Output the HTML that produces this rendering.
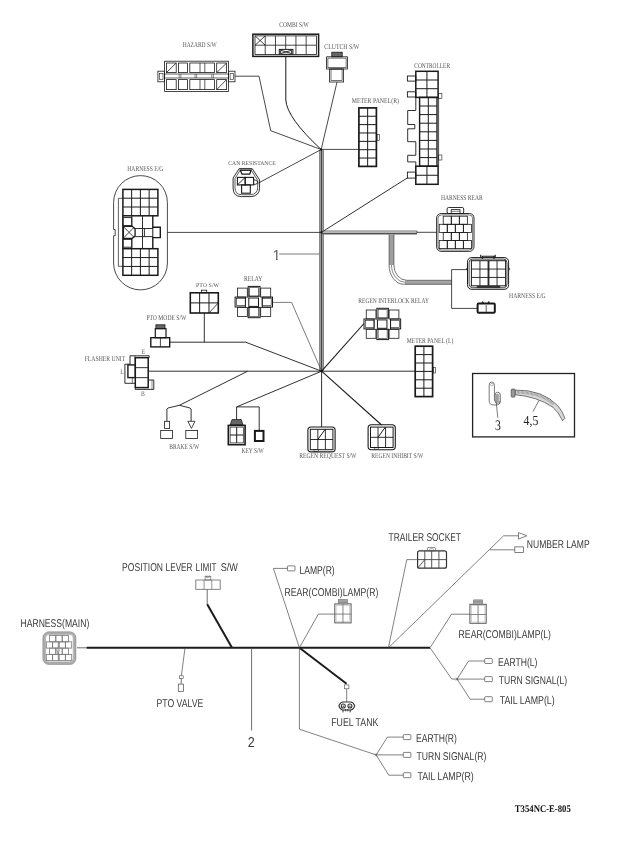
<!DOCTYPE html>
<html lang="en"><head><meta charset="utf-8"><title>T354NC-E-805 Wiring harness</title>
<style>
html,body{margin:0;padding:0;background:#fff;}
svg{display:block;filter:grayscale(1);text-rendering:geometricPrecision;}
text.s{font-family:"Liberation Serif","Times New Roman",serif;}
text.n{font-family:"Liberation Sans",Arial,sans-serif;}
</style></head><body>
<svg width="642" height="843" viewBox="0 0 642 843">
<rect x="0" y="0" width="642" height="843" fill="#fff"/>
<line x1="321.5" y1="150" x2="321.5" y2="371" stroke="#9e9e9e" stroke-width="4.2"/>
<line x1="321.5" y1="150" x2="321.5" y2="371" stroke="#3c3c3c" stroke-width="0.9"/>
<line x1="319.6" y1="150" x2="319.6" y2="371" stroke="#555" stroke-width="0.6"/>
<line x1="323.5" y1="150" x2="323.5" y2="371" stroke="#555" stroke-width="0.6"/>
<line x1="322" y1="232.5" x2="417" y2="232.5" stroke="#b8b8b8" stroke-width="3.8"/>
<line x1="322" y1="230.9" x2="417" y2="230.9" stroke="#8c8c8c" stroke-width="0.7"/>
<line x1="322" y1="233.8" x2="417" y2="233.8" stroke="#2e2e2e" stroke-width="1.1"/>
<line x1="417" y1="233.2" x2="417" y2="231" stroke="#444" stroke-width="0.8"/>
<line x1="417" y1="232.3" x2="437" y2="232.3" stroke="#1a1a1a" stroke-width="0.8"/>
<line x1="391.5" y1="234.4" x2="391.5" y2="265" stroke="#9e9e9e" stroke-width="4.6"/>
<line x1="405" y1="282.3" x2="451.6" y2="282.3" stroke="#a4a4a4" stroke-width="3.8"/>
<path d="M389.1,234.4 V265 A14.7,19.3 0 0 0 403.8,284.3 H451.6" fill="none" stroke="#3a3a3a" stroke-width="0.7" />
<path d="M393.9,234.4 V265 A12.8,15.3 0 0 0 406.7,280.3 H451.6" fill="none" stroke="#3a3a3a" stroke-width="0.7" />
<path d="M391.5,265 A13.7,17.3 0 0 0 405.2,282.3" fill="none" stroke="#555" stroke-width="0.7" />
<path d="M467.5,269.6 H451.6 V308.4 H477" fill="none" stroke="#1a1a1a" stroke-width="0.8" />
<polyline points="235,76.2 259,76.2 270.7,130.7 321.2,149.5" fill="none" stroke="#1a1a1a" stroke-width="0.8" />
<path d="M285.8,56.5 V100 Q287,118 321.2,149.5" fill="none" stroke="#1a1a1a" stroke-width="1.0" />
<line x1="337" y1="82" x2="321.2" y2="149.5" stroke="#1a1a1a" stroke-width="0.8"/>
<line x1="321.2" y1="149.4" x2="359" y2="149.4" stroke="#1a1a1a" stroke-width="0.8"/>
<line x1="258.5" y1="183" x2="321.2" y2="149.5" stroke="#1a1a1a" stroke-width="0.8"/>
<line x1="321.5" y1="232.3" x2="407.5" y2="177.8" stroke="#1a1a1a" stroke-width="0.9"/>
<line x1="167.5" y1="232.4" x2="321" y2="232.4" stroke="#1a1a1a" stroke-width="0.8"/>
<line x1="279.2" y1="254" x2="319.3" y2="254" stroke="#7a7a7a" stroke-width="1.0"/>
<polyline points="272.5,302.4 291.6,302.4 321.6,371.2" fill="none" stroke="#444" stroke-width="0.7" />
<line x1="204.3" y1="313" x2="204.3" y2="342.2" stroke="#1a1a1a" stroke-width="0.9"/>
<polyline points="169.7,342.2 245.7,342.2 321.6,371.2" fill="none" stroke="#1a1a1a" stroke-width="0.9" />
<line x1="148.5" y1="371.2" x2="321.6" y2="371.2" stroke="#1a1a1a" stroke-width="0.9"/>
<polyline points="247.7,371.2 179.4,405.3" fill="none" stroke="#1a1a1a" stroke-width="0.9" />
<polyline points="166.9,421.3 166.9,409 168,408 179.4,405.3 190,408 191.1,409 191.1,421.3" fill="none" stroke="#1a1a1a" stroke-width="0.9" />
<polyline points="321.6,371.2 236.6,406.9 259.2,406.9 259.2,430" fill="none" stroke="#1a1a1a" stroke-width="0.9" />
<line x1="236.6" y1="406.9" x2="236.6" y2="420" stroke="#1a1a1a" stroke-width="0.9"/>
<line x1="321.6" y1="371.2" x2="321.6" y2="427" stroke="#1a1a1a" stroke-width="0.9"/>
<line x1="321.6" y1="371.2" x2="381.6" y2="425" stroke="#1a1a1a" stroke-width="1.1"/>
<line x1="321.6" y1="371.2" x2="415" y2="371.2" stroke="#1a1a1a" stroke-width="0.9"/>
<line x1="321.6" y1="371.2" x2="364" y2="323.5" stroke="#1a1a1a" stroke-width="1.1"/>
<circle cx="321.2" cy="149.5" r="1.1" fill="#111"/>
<circle cx="321.5" cy="232.3" r="1.1" fill="#111"/>
<circle cx="321.6" cy="371.2" r="1.1" fill="#111"/>
<text class="s" x="182.7" y="46.7" font-size="7.3" fill="#555" textLength="34" lengthAdjust="spacingAndGlyphs">HAZARD S/W</text>
<rect x="164.6" y="61.2" width="63.9" height="30.3" fill="none" stroke="#1a1a1a" stroke-width="0.8"/>
<rect x="157.9" y="71.2" width="6.7" height="10.6" fill="none" stroke="#1a1a1a" stroke-width="0.8"/>
<rect x="228.5" y="71.2" width="6.5" height="10.6" fill="none" stroke="#1a1a1a" stroke-width="0.8"/>
<rect x="159.6" y="73.4" width="3.4" height="6.2" fill="none" stroke="#1a1a1a" stroke-width="0.6"/>
<rect x="230.1" y="73.4" width="3.4" height="6.2" fill="none" stroke="#1a1a1a" stroke-width="0.6"/>
<line x1="164.6" y1="74" x2="228.5" y2="74" stroke="#1a1a1a" stroke-width="0.7"/>
<line x1="164.6" y1="78" x2="228.5" y2="78" stroke="#1a1a1a" stroke-width="0.7"/>
<line x1="179.2" y1="74" x2="179.2" y2="78" stroke="#1a1a1a" stroke-width="0.5"/>
<line x1="180.8" y1="74" x2="180.8" y2="78" stroke="#1a1a1a" stroke-width="0.5"/>
<line x1="195.0" y1="74" x2="195.0" y2="78" stroke="#1a1a1a" stroke-width="0.5"/>
<line x1="196.60000000000002" y1="74" x2="196.60000000000002" y2="78" stroke="#1a1a1a" stroke-width="0.5"/>
<line x1="211.79999999999998" y1="74" x2="211.79999999999998" y2="78" stroke="#1a1a1a" stroke-width="0.5"/>
<line x1="213.4" y1="74" x2="213.4" y2="78" stroke="#1a1a1a" stroke-width="0.5"/>
<rect x="166.4" y="63" width="9.8" height="9.6" fill="none" stroke="#1a1a1a" stroke-width="0.8"/>
<rect x="178.4" y="63" width="9.0" height="9.6" fill="none" stroke="#1a1a1a" stroke-width="0.8"/>
<rect x="189.8" y="63" width="24.7" height="9.6" fill="none" stroke="#1a1a1a" stroke-width="0.8"/>
<rect x="216.7" y="63" width="9.9" height="9.6" fill="none" stroke="#1a1a1a" stroke-width="0.8"/>
<line x1="200" y1="63" x2="200" y2="72.6" stroke="#1a1a1a" stroke-width="0.7"/>
<line x1="204.8" y1="63" x2="204.8" y2="72.6" stroke="#1a1a1a" stroke-width="0.7"/>
<line x1="166.4" y1="72.6" x2="176.2" y2="63" stroke="#1a1a1a" stroke-width="0.8"/>
<line x1="216.7" y1="72.6" x2="226.6" y2="63" stroke="#1a1a1a" stroke-width="0.8"/>
<rect x="166.4" y="79.6" width="9.8" height="10.0" fill="none" stroke="#1a1a1a" stroke-width="0.8"/>
<rect x="178.4" y="79.6" width="9.0" height="10.0" fill="none" stroke="#1a1a1a" stroke-width="0.8"/>
<rect x="189.8" y="79.6" width="24.7" height="10.0" fill="none" stroke="#1a1a1a" stroke-width="0.8"/>
<rect x="216.7" y="79.6" width="9.9" height="10.0" fill="none" stroke="#1a1a1a" stroke-width="0.8"/>
<line x1="200" y1="79.6" x2="200" y2="89.6" stroke="#1a1a1a" stroke-width="0.7"/>
<line x1="204.8" y1="79.6" x2="204.8" y2="89.6" stroke="#1a1a1a" stroke-width="0.7"/>
<line x1="216.7" y1="89.6" x2="226.6" y2="79.6" stroke="#1a1a1a" stroke-width="0.8"/>
<text class="s" x="279.3" y="26.8" font-size="7.3" fill="#555" textLength="29.5" lengthAdjust="spacingAndGlyphs">COMBI S/W</text>
<rect x="252.9" y="34.2" width="65.7" height="22.2" fill="none" stroke="#1a1a1a" stroke-width="1.5"/>
<path d="M265.23,35.9V54.5M275.47,35.9V54.5M285.7,35.9V54.5M295.93,35.9V54.5M306.17,35.9V54.5M255,45.2H316.4" fill="none" stroke="#1a1a1a" stroke-width="0.8" />
<rect x="255" y="35.9" width="61.4" height="18.6" fill="none" stroke="#1a1a1a" stroke-width="0.8"/>
<line x1="255" y1="35.9" x2="265.2" y2="45.2" stroke="#1a1a1a" stroke-width="0.8"/>
<line x1="255" y1="45.2" x2="265.2" y2="35.9" stroke="#1a1a1a" stroke-width="0.8"/>
<rect x="279.3" y="49.4" width="13.6" height="4.9" fill="#fff" stroke="#1a1a1a" stroke-width="1.0"/>
<polygon points="280.6,50.2 291.6,53.6 291.6,50.2 280.6,53.6" fill="none" stroke="#1a1a1a" stroke-width="0.9" />
<text class="s" x="324.3" y="49.1" font-size="7.3" fill="#555" textLength="35" lengthAdjust="spacingAndGlyphs">CLUTCH S/W</text>
<rect x="331.8" y="52.2" width="10.4" height="4.6" fill="#666" stroke="#1a1a1a" stroke-width="0.8"/>
<rect x="326.6" y="56.8" width="20.8" height="12.2" fill="none" stroke="#1a1a1a" stroke-width="0.8"/>
<rect x="327.9" y="58.1" width="18.2" height="9.6" fill="none" stroke="#1a1a1a" stroke-width="0.6"/>
<rect x="329.5" y="69" width="14.1" height="13" fill="none" stroke="#1a1a1a" stroke-width="0.8"/>
<rect x="331" y="69" width="11.1" height="11.6" fill="none" stroke="#1a1a1a" stroke-width="0.6"/>
<text class="s" x="351.7" y="103.4" font-size="7.3" fill="#555" textLength="47.3" lengthAdjust="spacingAndGlyphs">METER PANEL(R)</text>
<path d="M367.65,107.9V166.4M358.9,116.26H376.4M358.9,124.61H376.4M358.9,132.97H376.4M358.9,141.33H376.4M358.9,149.69H376.4M358.9,158.04H376.4" fill="none" stroke="#1a1a1a" stroke-width="1.0" />
<rect x="358.9" y="107.9" width="17.5" height="58.5" fill="none" stroke="#1a1a1a" stroke-width="1.7"/>
<rect x="377.1" y="134.6" width="2.2" height="5.8" fill="none" stroke="#1a1a1a" stroke-width="0.6"/>
<text class="s" x="414.3" y="68.1" font-size="7.3" fill="#555" textLength="35.7" lengthAdjust="spacingAndGlyphs">CONTROLLER</text>
<path d="M426.95,71.3V97.4M415.8,80.0H438.1M415.8,88.7H438.1" fill="none" stroke="#1a1a1a" stroke-width="1.0" />
<rect x="415.8" y="71.3" width="22.3" height="26.1" fill="none" stroke="#1a1a1a" stroke-width="1.5"/>
<path d="M428.3,97.4V166.2M419.6,106.0H437M419.6,114.6H437M419.6,123.2H437M419.6,131.8H437M419.6,140.4H437M419.6,149.0H437M419.6,157.6H437" fill="none" stroke="#1a1a1a" stroke-width="1.0" />
<rect x="419.6" y="97.4" width="17.4" height="68.8" fill="none" stroke="#1a1a1a" stroke-width="1.4"/>
<path d="M426.95,166.2V184.3M415.8,175.25H438.1" fill="none" stroke="#1a1a1a" stroke-width="1.0" />
<rect x="415.8" y="166.2" width="22.3" height="18.1" fill="none" stroke="#1a1a1a" stroke-width="1.5"/>
<line x1="438.6" y1="97.4" x2="438.6" y2="166.2" stroke="#1a1a1a" stroke-width="0.8"/>
<rect x="407.4" y="76" width="8.4" height="5.1" fill="none" stroke="#1a1a1a" stroke-width="0.9"/>
<rect x="407.4" y="91.8" width="8.4" height="5.2" fill="none" stroke="#1a1a1a" stroke-width="0.9"/>
<polyline points="415.8,97.4 415.8,110.5 407.7,110.5 407.7,124.5 414.8,124.5 414.8,128.8 407.7,128.8 407.7,141.7 415.8,141.7 415.8,155.3 407.7,155.3 407.7,161.9 415.8,161.9 415.8,166.2" fill="none" stroke="#1a1a1a" stroke-width="0.9" />
<rect x="407.4" y="172.1" width="8.4" height="6.0" fill="none" stroke="#1a1a1a" stroke-width="0.9"/>
<rect x="438.6" y="93.3" width="3.3" height="5.0" fill="none" stroke="#1a1a1a" stroke-width="0.6"/>
<rect x="438.6" y="155" width="3.3" height="5" fill="none" stroke="#1a1a1a" stroke-width="0.6"/>
<text class="s" x="228.3" y="164.9" font-size="5.7" fill="#555" textLength="47.4" lengthAdjust="spacingAndGlyphs">CAN RESISTANCE</text>
<path d="M239.2,168.6 H252.2 L259.6,180 V187.5 Q259.6,196.6 250,196.6 H241.5 Q233.1,196.6 233.1,188 V178 Z" fill="none" stroke="#1a1a1a" stroke-width="0.9" />
<path d="M240,170.4 H251.4 L257.7,180.4 V187.2 Q257.7,194.7 249.8,194.7 H241.8 Q235,194.7 235,187.6 V178.5 Z" fill="none" stroke="#1a1a1a" stroke-width="0.7" />
<path d="M240.3,170.2 H251.1 L249.7,174.2 H242 Z" fill="none" stroke="#1a1a1a" stroke-width="1.3" />
<rect x="237.4" y="177.4" width="7.8" height="7.5" fill="none" stroke="#1a1a1a" stroke-width="1.1"/>
<line x1="237.4" y1="184.9" x2="245.2" y2="177.4" stroke="#1a1a1a" stroke-width="0.9"/>
<rect x="245.2" y="177.4" width="8.4" height="7.5" fill="none" stroke="#1a1a1a" stroke-width="1.1"/>
<rect x="241.6" y="184.9" width="8.7" height="8.3" fill="none" stroke="#1a1a1a" stroke-width="1.1"/>
<path d="M253.6,179.6 Q259,181 257.5,183.2 Q256,184.6 253.6,184.4" fill="none" stroke="#1a1a1a" stroke-width="0.9" />
<text class="s" x="127.3" y="171.4" font-size="7.3" fill="#555" textLength="36" lengthAdjust="spacingAndGlyphs">HARNESS E/G</text>
<path d="M113.6,202.5 A26.9,26.9 0 0 1 167.4,202.5 V263 A26.9,26.9 0 0 1 113.6,263 V235.7 H115.2 V229.5 H113.6 Z" fill="none" stroke="#1a1a1a" stroke-width="0.8" />
<path d="M131.65,189.4V215.8M140.4,189.4V215.8M149.15,189.4V215.8M122.9,198.2H157.9M122.9,207.0H157.9" fill="none" stroke="#1a1a1a" stroke-width="1.0" />
<rect x="122.9" y="189.4" width="35.0" height="26.4" fill="none" stroke="#1a1a1a" stroke-width="1.5"/>
<path d="M131.65,248.7V275.3M140.4,248.7V275.3M149.15,248.7V275.3M122.9,257.57H157.9M122.9,266.43H157.9" fill="none" stroke="#1a1a1a" stroke-width="1.0" />
<rect x="122.9" y="248.7" width="35.0" height="26.6" fill="none" stroke="#1a1a1a" stroke-width="1.5"/>
<polyline points="122.9,198.3 118.4,198.3 118.4,266.3 122.9,266.3" fill="none" stroke="#1a1a1a" stroke-width="0.7" />
<polyline points="122.9,215.8 122.9,248.7" fill="none" stroke="#1a1a1a" stroke-width="1.4" />
<polyline points="152.8,215.8 152.8,227.2 160.3,227.2 160.3,237.6 152.8,237.6 152.8,248.7" fill="none" stroke="#1a1a1a" stroke-width="1.4" />
<line x1="152.8" y1="227.2" x2="152.8" y2="237.6" stroke="#1a1a1a" stroke-width="1.0"/>
<rect x="122.9" y="217.6" width="8.9" height="8.0" fill="none" stroke="#1a1a1a" stroke-width="0.9"/>
<rect x="122.9" y="239.4" width="8.9" height="7.8" fill="none" stroke="#1a1a1a" stroke-width="0.9"/>
<polygon points="123.4,226.4 132.4,226.4 135.1,229.1 135.1,235.6 132.4,238.3 123.4,238.3" fill="none" stroke="#1a1a1a" stroke-width="1.3" />
<line x1="123.8" y1="227" x2="134.4" y2="237.7" stroke="#1a1a1a" stroke-width="0.8"/>
<line x1="123.8" y1="237.7" x2="134.4" y2="227" stroke="#1a1a1a" stroke-width="0.8"/>
<path d="M131.8,215.8 V226.4 M131.8,238.3 V248.7 M142.5,215.8 V248.7 M135.1,228.5 H152.8 M135.1,236.6 H152.8 M144.4,228.5 V236.6" fill="none" stroke="#1a1a1a" stroke-width="0.9" />
<text class="s" x="196.1" y="286.9" font-size="5.8" fill="#555" textLength="23" lengthAdjust="spacingAndGlyphs">PTO S/W</text>
<path d="M199.63,292.8V313M208.97,292.8V313M190.3,302.9H218.3" fill="none" stroke="#1a1a1a" stroke-width="1.0" />
<rect x="190.3" y="292.8" width="28.0" height="20.2" fill="none" stroke="#1a1a1a" stroke-width="1.6"/>
<line x1="209" y1="313" x2="218.3" y2="302.9" stroke="#1a1a1a" stroke-width="0.8"/>
<rect x="201.5" y="290.2" width="5.2" height="2.6" fill="none" stroke="#1a1a1a" stroke-width="0.8"/>
<text class="s" x="244" y="280.8" font-size="7.3" fill="#555" textLength="18.3" lengthAdjust="spacingAndGlyphs">RELAY</text>
<rect x="237.4" y="288.1" width="9.9" height="9.0" fill="none" stroke="#1a1a1a" stroke-width="0.8"/>
<rect x="260.7" y="288.1" width="10.0" height="9.0" fill="none" stroke="#1a1a1a" stroke-width="0.8"/>
<rect x="237.4" y="307.4" width="9.9" height="9.0" fill="none" stroke="#1a1a1a" stroke-width="0.8"/>
<rect x="260.7" y="307.4" width="10.0" height="9.0" fill="none" stroke="#1a1a1a" stroke-width="0.8"/>
<rect x="248.2" y="286.4" width="11.8" height="9.8" fill="none" stroke="#1a1a1a" stroke-width="1.0"/>
<rect x="249.5" y="287.7" width="9.2" height="8.5" fill="none" stroke="#1a1a1a" stroke-width="0.6"/>
<rect x="248.2" y="307.4" width="11.8" height="10.3" fill="none" stroke="#1a1a1a" stroke-width="1.0"/>
<rect x="249.5" y="307.4" width="9.2" height="9.0" fill="none" stroke="#1a1a1a" stroke-width="0.6"/>
<rect x="235.1" y="297.1" width="10.3" height="9.9" fill="none" stroke="#1a1a1a" stroke-width="1.0"/>
<rect x="236.4" y="298.4" width="9.0" height="7.3" fill="none" stroke="#1a1a1a" stroke-width="0.6"/>
<rect x="262.2" y="297.1" width="10.3" height="9.9" fill="none" stroke="#1a1a1a" stroke-width="1.0"/>
<rect x="262.2" y="298.4" width="9.0" height="7.3" fill="none" stroke="#1a1a1a" stroke-width="0.6"/>
<rect x="248.8" y="298.0" width="9.7" height="8.4" fill="none" stroke="#1a1a1a" stroke-width="1.0"/>
<line x1="247.29999999999998" y1="297.09999999999997" x2="248.79999999999998" y2="298.0" stroke="#1a1a1a" stroke-width="0.6"/>
<text class="s" x="358.3" y="303.4" font-size="7.3" fill="#555" textLength="70.7" lengthAdjust="spacingAndGlyphs">REGEN INTERLOCK RELAY</text>
<rect x="366.25" y="310.0" width="9.7" height="9.0" fill="none" stroke="#1a1a1a" stroke-width="0.8"/>
<rect x="389.09" y="310.0" width="9.8" height="9.0" fill="none" stroke="#1a1a1a" stroke-width="0.8"/>
<rect x="366.25" y="329.3" width="9.7" height="9.0" fill="none" stroke="#1a1a1a" stroke-width="0.8"/>
<rect x="389.09" y="329.3" width="9.8" height="9.0" fill="none" stroke="#1a1a1a" stroke-width="0.8"/>
<rect x="376.84" y="308.3" width="11.56" height="9.8" fill="none" stroke="#1a1a1a" stroke-width="1.0"/>
<rect x="378.11" y="309.6" width="9.02" height="8.5" fill="none" stroke="#1a1a1a" stroke-width="0.6"/>
<rect x="376.84" y="329.3" width="11.56" height="10.3" fill="none" stroke="#1a1a1a" stroke-width="1.0"/>
<rect x="378.11" y="329.3" width="9.02" height="9.0" fill="none" stroke="#1a1a1a" stroke-width="0.6"/>
<rect x="364.0" y="319.0" width="10.09" height="9.9" fill="none" stroke="#1a1a1a" stroke-width="1.0"/>
<rect x="365.27" y="320.3" width="8.82" height="7.3" fill="none" stroke="#1a1a1a" stroke-width="0.6"/>
<rect x="390.56" y="319.0" width="10.09" height="9.9" fill="none" stroke="#1a1a1a" stroke-width="1.0"/>
<rect x="390.56" y="320.3" width="8.82" height="7.3" fill="none" stroke="#1a1a1a" stroke-width="0.6"/>
<rect x="377.43" y="319.9" width="9.51" height="8.4" fill="none" stroke="#1a1a1a" stroke-width="1.0"/>
<line x1="375.956" y1="319.0" x2="377.426" y2="319.90000000000003" stroke="#1a1a1a" stroke-width="0.6"/>
<text class="s" x="146.4" y="319.9" font-size="7.3" fill="#555" textLength="40" lengthAdjust="spacingAndGlyphs">PTO MODE S/W</text>
<rect x="155.9" y="324.8" width="9.1" height="3.9" fill="#666" stroke="#1a1a1a" stroke-width="0.8"/>
<rect x="155.3" y="328.7" width="10.7" height="9.0" fill="none" stroke="#1a1a1a" stroke-width="1.2"/>
<rect x="150.8" y="337.7" width="18.9" height="9.2" fill="none" stroke="#1a1a1a" stroke-width="1.4"/>
<line x1="160.4" y1="337.7" x2="160.4" y2="346.9" stroke="#1a1a1a" stroke-width="0.8"/>
<text class="s" x="84.7" y="361.1" font-size="7.3" fill="#555" textLength="40.5" lengthAdjust="spacingAndGlyphs">FLASHER UNIT</text>
<text class="s" x="141.6" y="354" font-size="7.0" fill="#555" textLength="3.8" lengthAdjust="spacingAndGlyphs">E</text>
<text class="s" x="120.2" y="373.8" font-size="7.0" fill="#555" textLength="3.6" lengthAdjust="spacingAndGlyphs">L</text>
<text class="s" x="141.1" y="396.3" font-size="7.0" fill="#555" textLength="3.8" lengthAdjust="spacingAndGlyphs">B</text>
<path d="M135.3,367.67H148.2M135.3,377.63H148.2" fill="none" stroke="#1a1a1a" stroke-width="0.9" />
<rect x="135.3" y="357.7" width="12.9" height="29.9" fill="none" stroke="#1a1a1a" stroke-width="1.5"/>
<rect x="127.9" y="364.9" width="7.4" height="12.7" fill="none" stroke="#1a1a1a" stroke-width="1.4"/>
<polyline points="130,364.2 130,355.8 149.2,355.8 149.2,357.7" fill="none" stroke="#1a1a1a" stroke-width="0.9" />
<line x1="135" y1="355.8" x2="135" y2="364.2" stroke="#1a1a1a" stroke-width="0.6"/>
<polyline points="130,364.2 124.9,364.2 124.9,383.3 135.3,383.3" fill="none" stroke="#1a1a1a" stroke-width="0.9" />
<polyline points="132.3,377.7 132.3,383.3" fill="none" stroke="#1a1a1a" stroke-width="0.6" />
<polyline points="148.2,380 153.8,380 153.8,389.4 135.3,389.4 135.3,387.6" fill="none" stroke="#1a1a1a" stroke-width="0.9" />
<line x1="152" y1="380" x2="152" y2="389.4" stroke="#1a1a1a" stroke-width="0.5"/>
<text class="s" x="169.2" y="449.1" font-size="7.3" fill="#555" textLength="30" lengthAdjust="spacingAndGlyphs">BRAKE S/W</text>
<rect x="164.6" y="421.3" width="5.0" height="7.1" fill="none" stroke="#1a1a1a" stroke-width="0.8"/>
<rect x="160.7" y="430.4" width="11.7" height="8.1" fill="none" stroke="#1a1a1a" stroke-width="0.8"/>
<polygon points="187.9,421.3 195,421.3 191.4,428.4" fill="none" stroke="#1a1a1a" stroke-width="0.8" />
<rect x="185.8" y="430.4" width="11.8" height="8.1" fill="none" stroke="#1a1a1a" stroke-width="0.8"/>
<text class="s" x="241.5" y="452.7" font-size="7.3" fill="#555" textLength="22.3" lengthAdjust="spacingAndGlyphs">KEY S/W</text>
<polygon points="232,419.6 241.2,419.6 243,425 230.2,425" fill="#666" stroke="#1a1a1a" stroke-width="0.8" />
<rect x="228.3" y="425.4" width="16.8" height="19.3" fill="none" stroke="#1a1a1a" stroke-width="1.6"/>
<path d="M236.7,427.1V442.9M230.1,435.0H243.3" fill="none" stroke="#1a1a1a" stroke-width="1.0" />
<rect x="230.1" y="427.1" width="13.2" height="15.8" fill="none" stroke="#1a1a1a" stroke-width="0.7"/>
<rect x="254.9" y="430.9" width="8.6" height="10.1" fill="none" stroke="#1a1a1a" stroke-width="2.0"/>
<rect x="307.9" y="427.0" width="27.2" height="24.9" rx="3.2" fill="none" stroke="#1a1a1a" stroke-width="1.1"/>
<path d="M317.83,429.3V449.7M325.37,429.3V449.7M310.29999999999995,439.5H332.9" fill="none" stroke="#1a1a1a" stroke-width="0.9" />
<rect x="310.3" y="429.3" width="22.6" height="20.4" fill="none" stroke="#1a1a1a" stroke-width="1.0"/>
<line x1="317.79999999999995" y1="439.5" x2="325.09999999999997" y2="429.4" stroke="#1a1a1a" stroke-width="1.0"/>
<rect x="314.0" y="449.6" width="4.3" height="1.7" fill="none" stroke="#1a1a1a" stroke-width="0.5"/>
<rect x="368.1" y="424.8" width="27.2" height="24.9" rx="3.2" fill="none" stroke="#1a1a1a" stroke-width="1.1"/>
<path d="M378.03,427.1V447.5M385.57,427.1V447.5M370.5,437.3H393.1" fill="none" stroke="#1a1a1a" stroke-width="0.9" />
<rect x="370.5" y="427.1" width="22.6" height="20.4" fill="none" stroke="#1a1a1a" stroke-width="1.0"/>
<line x1="378.0" y1="437.3" x2="385.3" y2="427.2" stroke="#1a1a1a" stroke-width="1.0"/>
<rect x="374.2" y="447.4" width="4.3" height="1.7" fill="none" stroke="#1a1a1a" stroke-width="0.5"/>
<text class="s" x="299.2" y="458.0" font-size="7.3" fill="#555" textLength="57.3" lengthAdjust="spacingAndGlyphs">REGEN REQUEST S/W</text>
<text class="s" x="371.3" y="457.7" font-size="7.3" fill="#555" textLength="52.1" lengthAdjust="spacingAndGlyphs">REGEN INHIBIT S/W</text>
<text class="s" x="406.7" y="343.1" font-size="7.3" fill="#555" textLength="46.6" lengthAdjust="spacingAndGlyphs">METER PANEL (L)</text>
<path d="M423.9,346.2V396.6M415.2,354.6H432.6M415.2,363.0H432.6M415.2,371.4H432.6M415.2,379.8H432.6M415.2,388.2H432.6" fill="none" stroke="#1a1a1a" stroke-width="1.0" />
<rect x="415.2" y="346.2" width="17.4" height="50.4" fill="none" stroke="#1a1a1a" stroke-width="1.7"/>
<rect x="433.3" y="367.5" width="2.0" height="5.5" fill="none" stroke="#1a1a1a" stroke-width="0.6"/>
<text class="s" x="441" y="200.1" font-size="7.3" fill="#555" textLength="41.7" lengthAdjust="spacingAndGlyphs">HARNESS REAR</text>
<rect x="436.6" y="213.5" width="37.4" height="37.9" rx="4.5" fill="none" stroke="#1a1a1a" stroke-width="0.9"/>
<rect x="438.0" y="214.9" width="34.6" height="35.1" rx="3.5" fill="none" stroke="#1a1a1a" stroke-width="0.6"/>
<rect x="447.1" y="207.5" width="16.6" height="6.0" rx="1.5" fill="none" stroke="#1a1a1a" stroke-width="0.9"/>
<rect x="451.2" y="209.6" width="8.8" height="3.9" fill="none" stroke="#1a1a1a" stroke-width="0.8"/>
<line x1="451.2" y1="211.3" x2="460" y2="211.3" stroke="#1a1a1a" stroke-width="0.6"/>
<rect x="443.22" y="216.2" width="8.05" height="8.1" fill="none" stroke="#1a1a1a" stroke-width="0.8"/>
<rect x="451.27" y="216.2" width="8.05" height="8.1" fill="none" stroke="#1a1a1a" stroke-width="0.8"/>
<rect x="459.32" y="216.2" width="8.05" height="8.1" fill="none" stroke="#1a1a1a" stroke-width="0.8"/>
<rect x="439.2" y="224.3" width="8.05" height="8.1" fill="none" stroke="#1a1a1a" stroke-width="0.8"/>
<rect x="447.25" y="224.3" width="8.05" height="8.1" fill="none" stroke="#1a1a1a" stroke-width="0.8"/>
<rect x="455.3" y="224.3" width="8.05" height="8.1" fill="none" stroke="#1a1a1a" stroke-width="0.8"/>
<rect x="463.35" y="224.3" width="8.05" height="8.1" fill="none" stroke="#1a1a1a" stroke-width="0.8"/>
<rect x="443.22" y="232.4" width="8.05" height="8.1" fill="none" stroke="#1a1a1a" stroke-width="0.8"/>
<rect x="451.27" y="232.4" width="8.05" height="8.1" fill="none" stroke="#1a1a1a" stroke-width="0.8"/>
<rect x="459.32" y="232.4" width="8.05" height="8.1" fill="none" stroke="#1a1a1a" stroke-width="0.8"/>
<rect x="439.2" y="240.5" width="8.05" height="8.1" fill="none" stroke="#1a1a1a" stroke-width="0.8"/>
<rect x="447.25" y="240.5" width="8.05" height="8.1" fill="none" stroke="#1a1a1a" stroke-width="0.8"/>
<rect x="455.3" y="240.5" width="8.05" height="8.1" fill="none" stroke="#1a1a1a" stroke-width="0.8"/>
<rect x="463.35" y="240.5" width="8.05" height="8.1" fill="none" stroke="#1a1a1a" stroke-width="0.8"/>
<text class="s" x="509" y="297.7" font-size="7.3" fill="#555" textLength="36.7" lengthAdjust="spacingAndGlyphs">HARNESS E/G</text>
<path d="M472,257.6 H504 Q508.6,257.6 508.6,262.2 V284.5 Q508.6,289.3 504,289.3 H472 Q467.5,289.3 467.5,284.5 V262.2 Q467.5,257.6 472,257.6 Z" fill="none" stroke="#1a1a1a" stroke-width="1.0" />
<path d="M472.6,259.1 H503.4 Q507,259.1 507,262.8 V284 Q507,287.7 503.4,287.7 H472.6 Q469.1,287.7 469.1,284 V262.8 Q469.1,259.1 472.6,259.1 Z" fill="none" stroke="#1a1a1a" stroke-width="0.8" />
<path d="M479.95,260.7V285.8M488.5,260.7V285.8M497.05,260.7V285.8M471.4,269.07H505.6M471.4,277.43H505.6" fill="none" stroke="#1a1a1a" stroke-width="0.9" />
<rect x="471.4" y="260.7" width="34.2" height="25.1" fill="none" stroke="#1a1a1a" stroke-width="1.0"/>
<line x1="487.7" y1="260.7" x2="487.7" y2="285.8" stroke="#1a1a1a" stroke-width="0.5"/>
<line x1="489.3" y1="260.7" x2="489.3" y2="285.8" stroke="#1a1a1a" stroke-width="0.5"/>
<line x1="476.8" y1="287.0" x2="500.2" y2="287.0" stroke="#333" stroke-width="2.2"/>
<path d="M482.3,259.1 V256.3 H494 V259.1 M480.7,257.6 V254.7 M495.2,257.6 V254.7" fill="none" stroke="#1a1a1a" stroke-width="1.1" />
<path d="M508.6,267.4 L510,269 L508.6,270.6 M467.5,267.4 L466.2,269 L467.5,270.6" fill="none" stroke="#1a1a1a" stroke-width="0.7" />
<rect x="477.6" y="303.6" width="17.2" height="9.2" rx="1" fill="none" stroke="#1a1a1a" stroke-width="2.0"/>
<line x1="486.2" y1="305" x2="486.2" y2="312" stroke="#1a1a1a" stroke-width="0.7"/>
<path d="M481.6,303.4 L482.7,301.4 L483.8,303.4 Z M487.6,303.4 L488.7,301.4 L489.8,303.4 Z" fill="#222" stroke="#1a1a1a" stroke-width="0.6" />
<text class="n" x="272.6" y="259.7" font-size="14.4" fill="#606060">1</text>
<rect x="272" y="258.5" width="3.9" height="2" fill="#fff"/><rect x="277.7" y="258.5" width="2.6" height="2" fill="#fff"/>
<rect x="472.6" y="373.5" width="101.9" height="63.4" fill="none" stroke="#222" stroke-width="1.3"/>
<path d="M489.2,385 Q489.2,382 491.8,382 Q494.4,382 494.4,385 V398.5 Q494.4,401 495.6,401.6 M489.2,385 V400.5 Q489.2,405 493.5,405 H496 Q500.3,405 500.3,401 V395 Q500.3,392.2 497.7,392.2 Q495.1,392.2 495.1,395 V401.5 Q495.1,403.2 497.6,403.2 Q500.3,403.2 500.3,401" fill="none" stroke="#555" stroke-width="0.8" />
<path d="M490.6,384.6 Q490.6,383.3 491.8,383.3 Q493,383.3 493,384.6 Q493,385.8 491.8,385.8 Q490.6,385.8 490.6,384.6 Z" fill="none" stroke="#777" stroke-width="0.5" />
<path d="M496.4,394.2 V402 M497.6,393.8 V402.4 M498.8,394.2 V402" fill="none" stroke="#666" stroke-width="0.7" />
<line x1="496.2" y1="401.8" x2="497.8" y2="417.8" stroke="#444" stroke-width="0.7"/>
<text class="s" x="495.1" y="429.9" font-size="14.6" fill="#222" textLength="5.9" lengthAdjust="spacingAndGlyphs">3</text>
<path d="M515,390.1 Q543,389.5 558.5,406.5 Q562.5,411.5 564.9,418.3 L562.6,420.7 Q558.5,412 552.9,407.2 Q537,396.5 515,394.7 Z" fill="#d8d8d8" stroke="#555" stroke-width="0.8" />
<path d="M515.5,392.3 Q541,392.5 553.5,404.3" fill="none" stroke="#8a8a8a" stroke-width="2.6" stroke-dasharray="0.6 0.7"/>
<rect x="511.2" y="389.1" width="3.8" height="8.0" rx="0.8" fill="#999" stroke="#555" stroke-width="0.8"/>
<line x1="538.9" y1="400.4" x2="533" y2="411.7" stroke="#444" stroke-width="0.7"/>
<text class="s" x="523.6" y="425.2" font-size="13.8" fill="#222" textLength="14.7" lengthAdjust="spacingAndGlyphs">4,5</text>
<text class="s" x="514.8" y="811.5" font-size="10.2" fill="#111" textLength="56" lengthAdjust="spacingAndGlyphs" font-weight="bold">T354NC-E-805</text>
<line x1="77" y1="647.8" x2="87" y2="647.8" stroke="#4a4a4a" stroke-width="0.8"/>
<line x1="86.7" y1="647.8" x2="430" y2="647.8" stroke="#1c1c1c" stroke-width="2.0"/>
<line x1="207.2" y1="589.3" x2="207.2" y2="604.5" stroke="#4a4a4a" stroke-width="0.8"/>
<line x1="207.2" y1="604.3" x2="232" y2="647.8" stroke="#1c1c1c" stroke-width="2.0"/>
<line x1="185" y1="648" x2="181.4" y2="675.5" stroke="#4a4a4a" stroke-width="0.7"/>
<rect x="179.4" y="675.8" width="3.8" height="2.5" fill="none" stroke="#4a4a4a" stroke-width="0.6"/>
<line x1="181.3" y1="678.3" x2="181.1" y2="684" stroke="#4a4a4a" stroke-width="0.8"/>
<rect x="178.3" y="684.1" width="5.1" height="7.5" fill="none" stroke="#4a4a4a" stroke-width="0.7"/>
<line x1="251.6" y1="648" x2="251.6" y2="730.5" stroke="#4a4a4a" stroke-width="0.8"/>
<polyline points="299.4,647.8 273.4,568.4 287.4,568.4" fill="none" stroke="#4a4a4a" stroke-width="0.7" />
<rect x="287.4" y="565.9" width="7.6" height="5.0" rx="0.8" fill="none" stroke="#4a4a4a" stroke-width="0.7"/>
<polyline points="299.4,647.8 318.4,614.1 335,614.1" fill="none" stroke="#4a4a4a" stroke-width="0.7" />
<polyline points="388.4,647.8 406.8,559.6 417.5,559.6" fill="none" stroke="#4a4a4a" stroke-width="0.7" />
<polyline points="388.4,647.8 503.6,535.8 518.5,535.8" fill="none" stroke="#4a4a4a" stroke-width="0.7" />
<polygon points="518.5,532.6 526.8,535.8 518.5,539.1" fill="none" stroke="#4a4a4a" stroke-width="0.7" />
<line x1="489.8" y1="549.8" x2="514.8" y2="549.8" stroke="#4a4a4a" stroke-width="0.7"/>
<rect x="514.8" y="546.9" width="8.7" height="5.6" fill="none" stroke="#4a4a4a" stroke-width="0.7"/>
<polyline points="430,647.8 451.5,614.2 470,614.2" fill="none" stroke="#4a4a4a" stroke-width="0.7" />
<polyline points="430,647.8 451.8,679.1 484.7,679.1" fill="none" stroke="#4a4a4a" stroke-width="0.7" />
<rect x="484.7" y="676.6" width="7.6" height="5.0" rx="0.8" fill="none" stroke="#4a4a4a" stroke-width="0.7"/>
<polyline points="457.1,679.1 468.6,661 484.7,661" fill="none" stroke="#4a4a4a" stroke-width="0.7" />
<rect x="484.7" y="658.5" width="7.6" height="5.0" rx="0.8" fill="none" stroke="#4a4a4a" stroke-width="0.7"/>
<polyline points="457.1,679.1 470.1,699.2 484.7,699.2" fill="none" stroke="#4a4a4a" stroke-width="0.7" />
<rect x="484.7" y="696.7" width="7.6" height="5.0" rx="0.8" fill="none" stroke="#4a4a4a" stroke-width="0.7"/>
<path d="M455.9,677.6 L458.3,680.6 M455.9,680.6 L458.3,677.6" fill="none" stroke="#4a4a4a" stroke-width="0.5" />
<line x1="299.4" y1="647.8" x2="346.6" y2="683.8" stroke="#1c1c1c" stroke-width="2.0"/>
<rect x="344.6" y="684.9" width="4.3" height="3.9" fill="none" stroke="#4a4a4a" stroke-width="0.6"/>
<line x1="346.7" y1="688.8" x2="346.7" y2="702" stroke="#4a4a4a" stroke-width="0.7"/>
<path d="M342.6,702 H351 Q353.4,702.4 354.7,705.8 Q353.6,709.4 351,710 H342.6 Q340,709.4 338.9,705.8 Q340.2,702.4 342.6,702 Z" fill="none" stroke="#333" stroke-width="1.1" />
<circle cx="343.3" cy="706" r="2.0" fill="none" stroke="#333" stroke-width="1.1"/>
<circle cx="349.9" cy="706" r="2.0" fill="none" stroke="#333" stroke-width="1.1"/>
<circle cx="343.3" cy="706.2" r="0.7" fill="#444"/>
<circle cx="349.9" cy="706.2" r="0.7" fill="#444"/>
<path d="M343,710 V712.4 M350.2,710 V712.4 M345.6,709 V711.3 M347.8,709 V711.3" fill="none" stroke="#333" stroke-width="1.0" />
<polyline points="299.4,647.8 299.4,729.2 376.1,754.9" fill="none" stroke="#4a4a4a" stroke-width="0.7" />
<polyline points="376.1,754.9 387.4,737.1 403.3,737.1" fill="none" stroke="#4a4a4a" stroke-width="0.7" />
<rect x="403.3" y="734.6" width="7.6" height="5.0" rx="0.8" fill="none" stroke="#4a4a4a" stroke-width="0.7"/>
<line x1="376.1" y1="754.9" x2="403.3" y2="754.9" stroke="#4a4a4a" stroke-width="0.7"/>
<rect x="403.3" y="752.4" width="7.6" height="5.0" rx="0.8" fill="none" stroke="#4a4a4a" stroke-width="0.7"/>
<polyline points="376.1,754.9 388.8,775.2 403.3,775.2" fill="none" stroke="#4a4a4a" stroke-width="0.7" />
<rect x="403.3" y="772.7" width="7.6" height="5.0" rx="0.8" fill="none" stroke="#4a4a4a" stroke-width="0.7"/>
<path d="M374.9,753.4 L377.3,756.4 M374.9,756.4 L377.3,753.4" fill="none" stroke="#4a4a4a" stroke-width="0.5" />
<rect x="44.1" y="633.0" width="30.6" height="30.3" rx="5" fill="none" stroke="#ababab" stroke-width="2.6"/>
<rect x="42.9" y="631.8" width="33.0" height="32.7" rx="6" fill="none" stroke="#8a8a8a" stroke-width="0.6"/>
<rect x="45.6" y="634.5" width="27.6" height="27.3" rx="3.6" fill="none" stroke="#8f8f8f" stroke-width="0.5"/>
<rect x="49.47" y="635.6" width="6.35" height="6.25" fill="none" stroke="#7a7a7a" stroke-width="0.8"/>
<rect x="55.82" y="635.6" width="6.35" height="6.25" fill="none" stroke="#7a7a7a" stroke-width="0.8"/>
<rect x="62.17" y="635.6" width="6.35" height="6.25" fill="none" stroke="#7a7a7a" stroke-width="0.8"/>
<rect x="46.3" y="641.85" width="6.35" height="6.25" fill="none" stroke="#7a7a7a" stroke-width="0.8"/>
<rect x="52.65" y="641.85" width="6.35" height="6.25" fill="none" stroke="#7a7a7a" stroke-width="0.8"/>
<rect x="59.0" y="641.85" width="6.35" height="6.25" fill="none" stroke="#7a7a7a" stroke-width="0.8"/>
<rect x="65.35" y="641.85" width="6.35" height="6.25" fill="none" stroke="#7a7a7a" stroke-width="0.8"/>
<rect x="49.47" y="648.1" width="6.35" height="6.25" fill="none" stroke="#7a7a7a" stroke-width="0.8"/>
<rect x="55.82" y="648.1" width="6.35" height="6.25" fill="none" stroke="#7a7a7a" stroke-width="0.8"/>
<rect x="62.17" y="648.1" width="6.35" height="6.25" fill="none" stroke="#7a7a7a" stroke-width="0.8"/>
<rect x="46.3" y="654.35" width="6.35" height="6.25" fill="none" stroke="#7a7a7a" stroke-width="0.8"/>
<rect x="52.65" y="654.35" width="6.35" height="6.25" fill="none" stroke="#7a7a7a" stroke-width="0.8"/>
<rect x="59.0" y="654.35" width="6.35" height="6.25" fill="none" stroke="#7a7a7a" stroke-width="0.8"/>
<rect x="65.35" y="654.35" width="6.35" height="6.25" fill="none" stroke="#7a7a7a" stroke-width="0.8"/>
<line x1="58.2" y1="641.8" x2="58.2" y2="660.5" stroke="#777" stroke-width="0.6"/>
<path d="M56.6,649.5 L58.2,654 L59.6,649.5" fill="none" stroke="#666" stroke-width="0.6" />
<rect x="195.8" y="580" width="24.4" height="9.3" fill="none" stroke="#666" stroke-width="0.8"/>
<line x1="204.1" y1="580" x2="204.1" y2="589.3" stroke="#666" stroke-width="0.7"/>
<line x1="211.8" y1="580" x2="211.8" y2="589.3" stroke="#666" stroke-width="0.7"/>
<rect x="205.1" y="576.2" width="5.7" height="3.8" fill="none" stroke="#666" stroke-width="0.7"/>
<rect x="206.5" y="576.2" width="2.9" height="1.4" fill="none" stroke="#666" stroke-width="0.5"/>
<rect x="334.8" y="603.9" width="16.3" height="19.0" fill="none" stroke="#5a5a5a" stroke-width="1.0"/>
<path d="M342.95,603.9V622.9M334.8,614.1H351.1" fill="none" stroke="#666" stroke-width="0.8" />
<rect x="336.1" y="605.2" width="13.7" height="16.4" fill="none" stroke="#999" stroke-width="0.4"/>
<rect x="338.6" y="599.5" width="8.7" height="4.4" fill="#b5b5b5" stroke="#666" stroke-width="0.6"/>
<path d="M338.6,601.0H347.3M338.6,602.5H347.3" fill="none" stroke="#666" stroke-width="0.5" />
<rect x="469.9" y="604.3" width="16.3" height="19.0" fill="none" stroke="#5a5a5a" stroke-width="1.0"/>
<path d="M478.04999999999995,604.3V623.3M469.9,614.5H486.2" fill="none" stroke="#666" stroke-width="0.8" />
<rect x="471.2" y="605.6" width="13.7" height="16.4" fill="none" stroke="#999" stroke-width="0.4"/>
<rect x="473.7" y="599.9" width="8.7" height="4.4" fill="#b5b5b5" stroke="#666" stroke-width="0.6"/>
<path d="M473.7,601.4H482.4M473.7,602.9H482.4" fill="none" stroke="#666" stroke-width="0.5" />
<rect x="417.6" y="550.8" width="28.9" height="17.4" rx="2" fill="none" stroke="#333" stroke-width="1.2"/>
<path d="M424.8,550.8V568.2M431.7,550.8V568.2M438.9,550.8V568.2M417.6,559.6H446.5M417.6,568.2L424.8,559.6" fill="none" stroke="#444" stroke-width="0.9" />
<rect x="427.4" y="547.6" width="8.2" height="3.2" rx="0.8" fill="none" stroke="#555" stroke-width="0.7"/>
<rect x="429.6" y="548.8" width="3.8" height="2.0" rx="0.8" fill="none" stroke="#666" stroke-width="0.5"/>
<text class="n" y="571.2" font-size="11.3" fill="#3a3a3a"><tspan x="122.1" textLength="40.9" lengthAdjust="spacingAndGlyphs">POSITION</tspan> <tspan x="165.6" textLength="26.9" lengthAdjust="spacingAndGlyphs">LEVER</tspan> <tspan x="195.6" textLength="20.7" lengthAdjust="spacingAndGlyphs">LIMIT</tspan> <tspan x="220.7" textLength="17.2" lengthAdjust="spacingAndGlyphs">S/W</tspan></text>
<text class="n" x="20.5" y="627.2" font-size="11.3" fill="#3a3a3a" textLength="68.8" lengthAdjust="spacingAndGlyphs">HARNESS(MAIN)</text>
<text class="n" x="156.5" y="707.2" font-size="11.3" fill="#3a3a3a" textLength="46.8" lengthAdjust="spacingAndGlyphs">PTO VALVE</text>
<text class="n" x="247.7" y="747.4" font-size="14.4" fill="#3a3a3a" textLength="7.0" lengthAdjust="spacingAndGlyphs">2</text>
<text class="n" x="299.4" y="574.4" font-size="11.3" fill="#3a3a3a" textLength="35.3" lengthAdjust="spacingAndGlyphs">LAMP(R)</text>
<text class="n" x="284.4" y="596.2" font-size="11.3" fill="#3a3a3a" textLength="94" lengthAdjust="spacingAndGlyphs">REAR(COMBI)LAMP(R)</text>
<text class="n" x="388.6" y="541.2" font-size="11.3" fill="#3a3a3a" textLength="72.4" lengthAdjust="spacingAndGlyphs">TRAILER SOCKET</text>
<text class="n" x="526.8" y="548.2" font-size="11.3" fill="#3a3a3a" textLength="62.8" lengthAdjust="spacingAndGlyphs">NUMBER LAMP</text>
<text class="n" x="458.6" y="638.4" font-size="11.3" fill="#3a3a3a" textLength="92.4" lengthAdjust="spacingAndGlyphs">REAR(COMBI)LAMP(L)</text>
<text class="n" x="498" y="666.1" font-size="11.3" fill="#3a3a3a" textLength="39.4" lengthAdjust="spacingAndGlyphs">EARTH(L)</text>
<text class="n" x="498.7" y="684.1" font-size="11.3" fill="#3a3a3a" textLength="68.4" lengthAdjust="spacingAndGlyphs">TURN SIGNAL(L)</text>
<text class="n" x="499.7" y="703.8" font-size="11.3" fill="#3a3a3a" textLength="55" lengthAdjust="spacingAndGlyphs">TAIL LAMP(L)</text>
<text class="n" x="331.2" y="725.8" font-size="11.3" fill="#3a3a3a" textLength="47.2" lengthAdjust="spacingAndGlyphs">FUEL TANK</text>
<text class="n" x="416" y="742.1" font-size="11.3" fill="#3a3a3a" textLength="40.8" lengthAdjust="spacingAndGlyphs">EARTH(R)</text>
<text class="n" x="416.4" y="759.8" font-size="11.3" fill="#3a3a3a" textLength="70" lengthAdjust="spacingAndGlyphs">TURN SIGNAL(R)</text>
<text class="n" x="417.4" y="779.8" font-size="11.3" fill="#3a3a3a" textLength="56.4" lengthAdjust="spacingAndGlyphs">TAIL LAMP(R)</text>
</svg>
</body></html>
